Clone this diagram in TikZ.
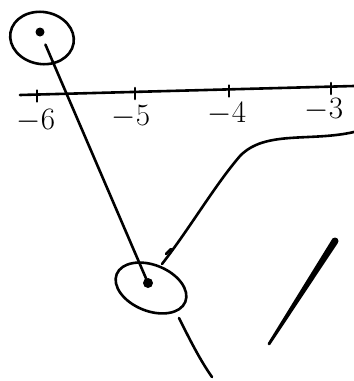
\documentclass[tikz,border=0pt]{standalone}
\usetikzlibrary{shapes.geometric}
\begin{document}
\begin{tikzpicture}[x=1pt,y=-1pt,
  ink/.style={line width=2.6pt,line cap=round,line join=round},
  dotnode/.style={circle,fill=black,inner sep=0pt,minimum size=9pt},
  ticklbl/.style={inner sep=0pt,scale=1.5,font=\huge}]
\useasboundingbox (0,0) rectangle (354,381);
% top ellipse and dot
\draw[ink] (42,38) ellipse [x radius=32, y radius=26, rotate=-10];
\node[dotnode] (d1) at (40,32) {};
% bottom ellipse and dot
\draw[ink] (151,288) ellipse [x radius=37, y radius=23, rotate=-22];
\node[dotnode,minimum size=10pt] (d2) at (148,283) {};
% axis
\coordinate (axL) at (20,95);
\coordinate (axR) at (354,86);
\draw[ink] (axL) -- (axR);
\foreach \x/\y/\n in {37/94.5/a6,135/92/a5,229/89.5/a4,331/87/a3}{
  \coordinate (\n) at (\x,\y);
  \draw[ink] (\x,\y-4) -- (\x,\y+7);
}
\node[ticklbl] (l6) at (36,121) {$-6$};
\node[ticklbl] (l5) at (131,117) {$-5$};
\node[ticklbl] (l4) at (227,114) {$-4$};
\node[ticklbl] (l3) at (324,110) {$-3$};
% connector between dots
\draw[ink,shorten <=9pt] (d1) -- (d2);
% curve to bottom ellipse
\coordinate (cs) at (354,132);
\coordinate (ce) at (162,264);
\draw[ink] (cs) .. controls (310,142) and (265,130) .. (240,156)
  .. controls (215,185) and (190,228) .. (ce);
\draw[ink] (166,254) -- (171,249);
% line below ellipse
\coordinate (b1) at (179,318);
\coordinate (b2) at (212,377);
\draw[ink] (b1) .. controls (190,340) and (200,360) .. (b2);
% thick tapered stroke
\coordinate (t1) at (335,241);
\coordinate (t2) at (269,344);
\fill (t1) circle (3.5pt);
\fill (t2) circle (1.3pt);
\fill (337.5,243.5) -- (332.5,238.5) -- (267.8,343.2) -- (270.2,344.8) -- cycle;
\end{tikzpicture}
\end{document}
